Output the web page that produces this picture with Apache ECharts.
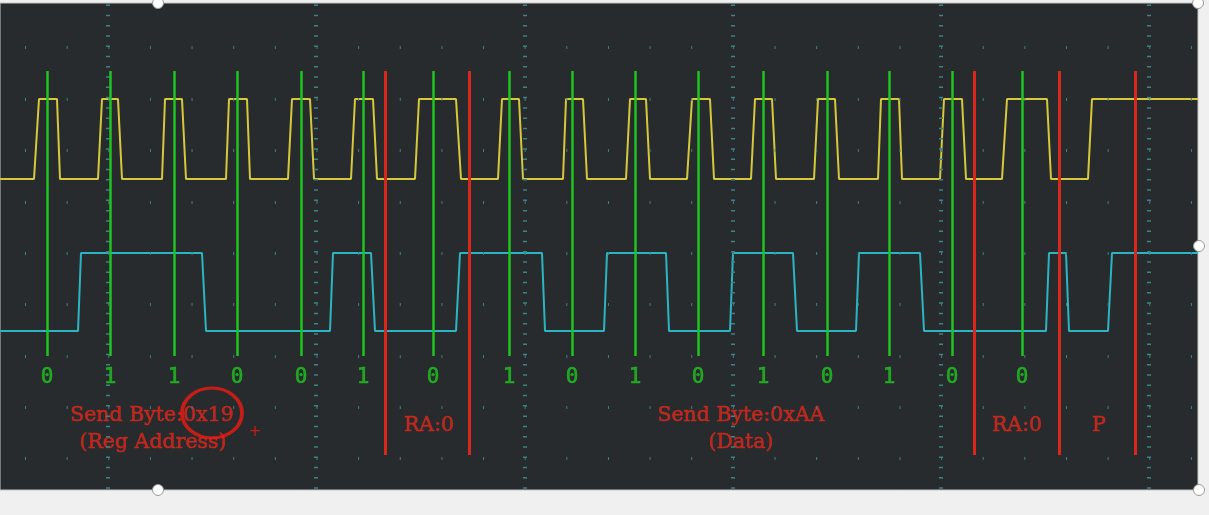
<!DOCTYPE html>
<html><head><meta charset="utf-8">
<script src="https://cdn.jsdelivr.net/npm/echarts@6/dist/echarts.min.js"></script>
<style>html,body{margin:0;padding:0;background:#f0f0f0;}#c{width:1209px;height:515px;}</style>
</head><body><div id="c"></div>
<script>
// ---- signal data (time in screen-sample units, level in trace units) ----
const SCL_LOW = 311, SCL_HIGH = 391;
const SDA_LOW = 159, SDA_HIGH = 237;
const T_END = 1198;
// alternating edges starting from LOW: [edgeStart, edgeEnd]
const sclTransitions = [
  [34,39],[57,60],[98,102],[118,122],[162,165],[182,186],[226,229],[247,250],
  [288,292],[310,314],[351,355],[373,377],[415,419],[456,461],[498,502],[519,523],
  [563,566],[583,587],[626,630],[646,650],[687,692],[710,714],[751,755],[772,776],
  [814,818],[835,839],[878,881],[899,902],[940,944],[962,966],[1002,1007],[1047,1051],
  [1088,1092]
];
const sdaTransitions = [
  [78,81],[202,206],[330,333],[371,375],[456,460],[542,545],[604,607],[666,669],
  [730,733],[793,797],[856,859],[920,924],[1046,1049],[1066,1069],[1108,1112]
];
// sampling markers and decoded bits
const sampleX = [47,110,174,237,301,363,433,509,572,635,698,763,827,889,952,1022];
const bits    = [0,1,1,0,0,1,0,1,0,1,0,1,0,1,0,0];
const boundaryX = [385,469,974,1059,1135];
const annotationText = ['Send Byte:0x19','(Reg Address)','RA:0','Send Byte:0xAA','(Data)','RA:0','P'];
const annotationX    = [152,153,429,741,741,1017,1099];
const annotationY    = [74,47,64,74,47,64,64];
// scope graticule
const majorDivX = [108,316,525,733,941,1149];
const rowY = [443,391,340,288,237,186,134,83,32];

function buildTrace(trans, low, high, xEnd){
  const pts = [[0, low]]; let lvl = low;
  trans.forEach(([a,b]) => { const nxt = lvl === low ? high : low; pts.push([a, lvl], [b, nxt]); lvl = nxt; });
  pts.push([xEnd, lvl]);
  return pts;
}

const chart = echarts.init(document.getElementById('c'), null, {renderer:'canvas'});
const gridColor = '#3a8387';
const handle = (cx,cy)=>({type:'circle',shape:{cx,cy,r:5.5},style:{fill:'#fff',stroke:'#9a9a9a',lineWidth:1},z:100});
chart.setOption({
  animation:false,
  backgroundColor:'#f0f0f0',
  grid:{left:0,right:11,top:3,bottom:25,show:true,backgroundColor:'#272b2d',borderColor:'#c4c4c4',borderWidth:1},
  xAxis:{type:'value',min:0,max:T_END,show:false},
  yAxis:{type:'value',min:0,max:487,show:false},
  graphic:[handle(158,3),handle(1198,3),handle(1199,246),handle(158,490),handle(1199,490)],
  series:[
    {type:'scatter',data:[],z:1,silent:true,
      markLine:{silent:true,symbol:'none',label:{show:false},animation:false,
        data:[
          ...majorDivX.map(x=>[{coord:[x,1.2],lineStyle:{color:gridColor,width:4,type:[1.5,8.775]}},{coord:[x,487]}]),
          ...rowY.map(y=>[{coord:[25,y],lineStyle:{color:gridColor,width:3,type:[1,40.64]}},{coord:[T_END,y]}])
        ]}},
    {name:'SCL',type:'line',z:2,symbol:'none',silent:true,
      lineStyle:{color:'#d6c83c',width:2},data:buildTrace(sclTransitions,SCL_LOW,SCL_HIGH,T_END)},
    {name:'SDA',type:'line',z:2,symbol:'none',silent:true,
      lineStyle:{color:'#2db4c2',width:2},data:buildTrace(sdaTransitions,SDA_LOW,SDA_HIGH,T_END)},
    {type:'scatter',data:[],z:3,silent:true,
      markLine:{silent:true,symbol:'none',label:{show:false},animation:false,
        data:[
          ...sampleX.map(x=>[{coord:[x,419],lineStyle:{color:'#1fc51f',width:2.5,type:'solid'}},{coord:[x,134]}]),
          ...boundaryX.map(x=>[{coord:[x,419],lineStyle:{color:'#d8271b',width:3,type:'solid'}},{coord:[x,35]}])
        ]}},
    {type:'scatter',z:4,silent:true,symbolSize:0,
      data:sampleX.map((x,i)=>[x,112.5,bits[i]]),
      label:{show:true,position:'inside',formatter:p=>String(p.value[2]),color:'#22c022',
        fontFamily:'DejaVu Sans Mono',fontSize:21,textBorderColor:'#22c022',textBorderWidth:0.6}},
    {type:'scatter',z:4,silent:true,symbolSize:0,
      data:annotationText.map((t,i)=>[annotationX[i],annotationY[i],t]),
      label:{show:true,position:'inside',formatter:p=>p.value[2],color:'#dc281d',
        fontFamily:'DejaVu Serif',fontSize:20.5,textBorderColor:'#dc281d',textBorderWidth:0.6}},
    {type:'scatter',z:5,silent:true,symbol:'circle',symbolSize:[60,50],
      itemStyle:{color:'rgba(0,0,0,0)',borderColor:'#f01a12',borderWidth:3.5},
      data:[[212,77]]},
    {type:'scatter',z:5,silent:true,symbolSize:0,data:[[255,58,'+']],
      label:{show:true,position:'inside',formatter:p=>p.value[2],color:'#f01a12',fontFamily:'DejaVu Sans',fontSize:15}}
  ]
});
</script></body></html>
